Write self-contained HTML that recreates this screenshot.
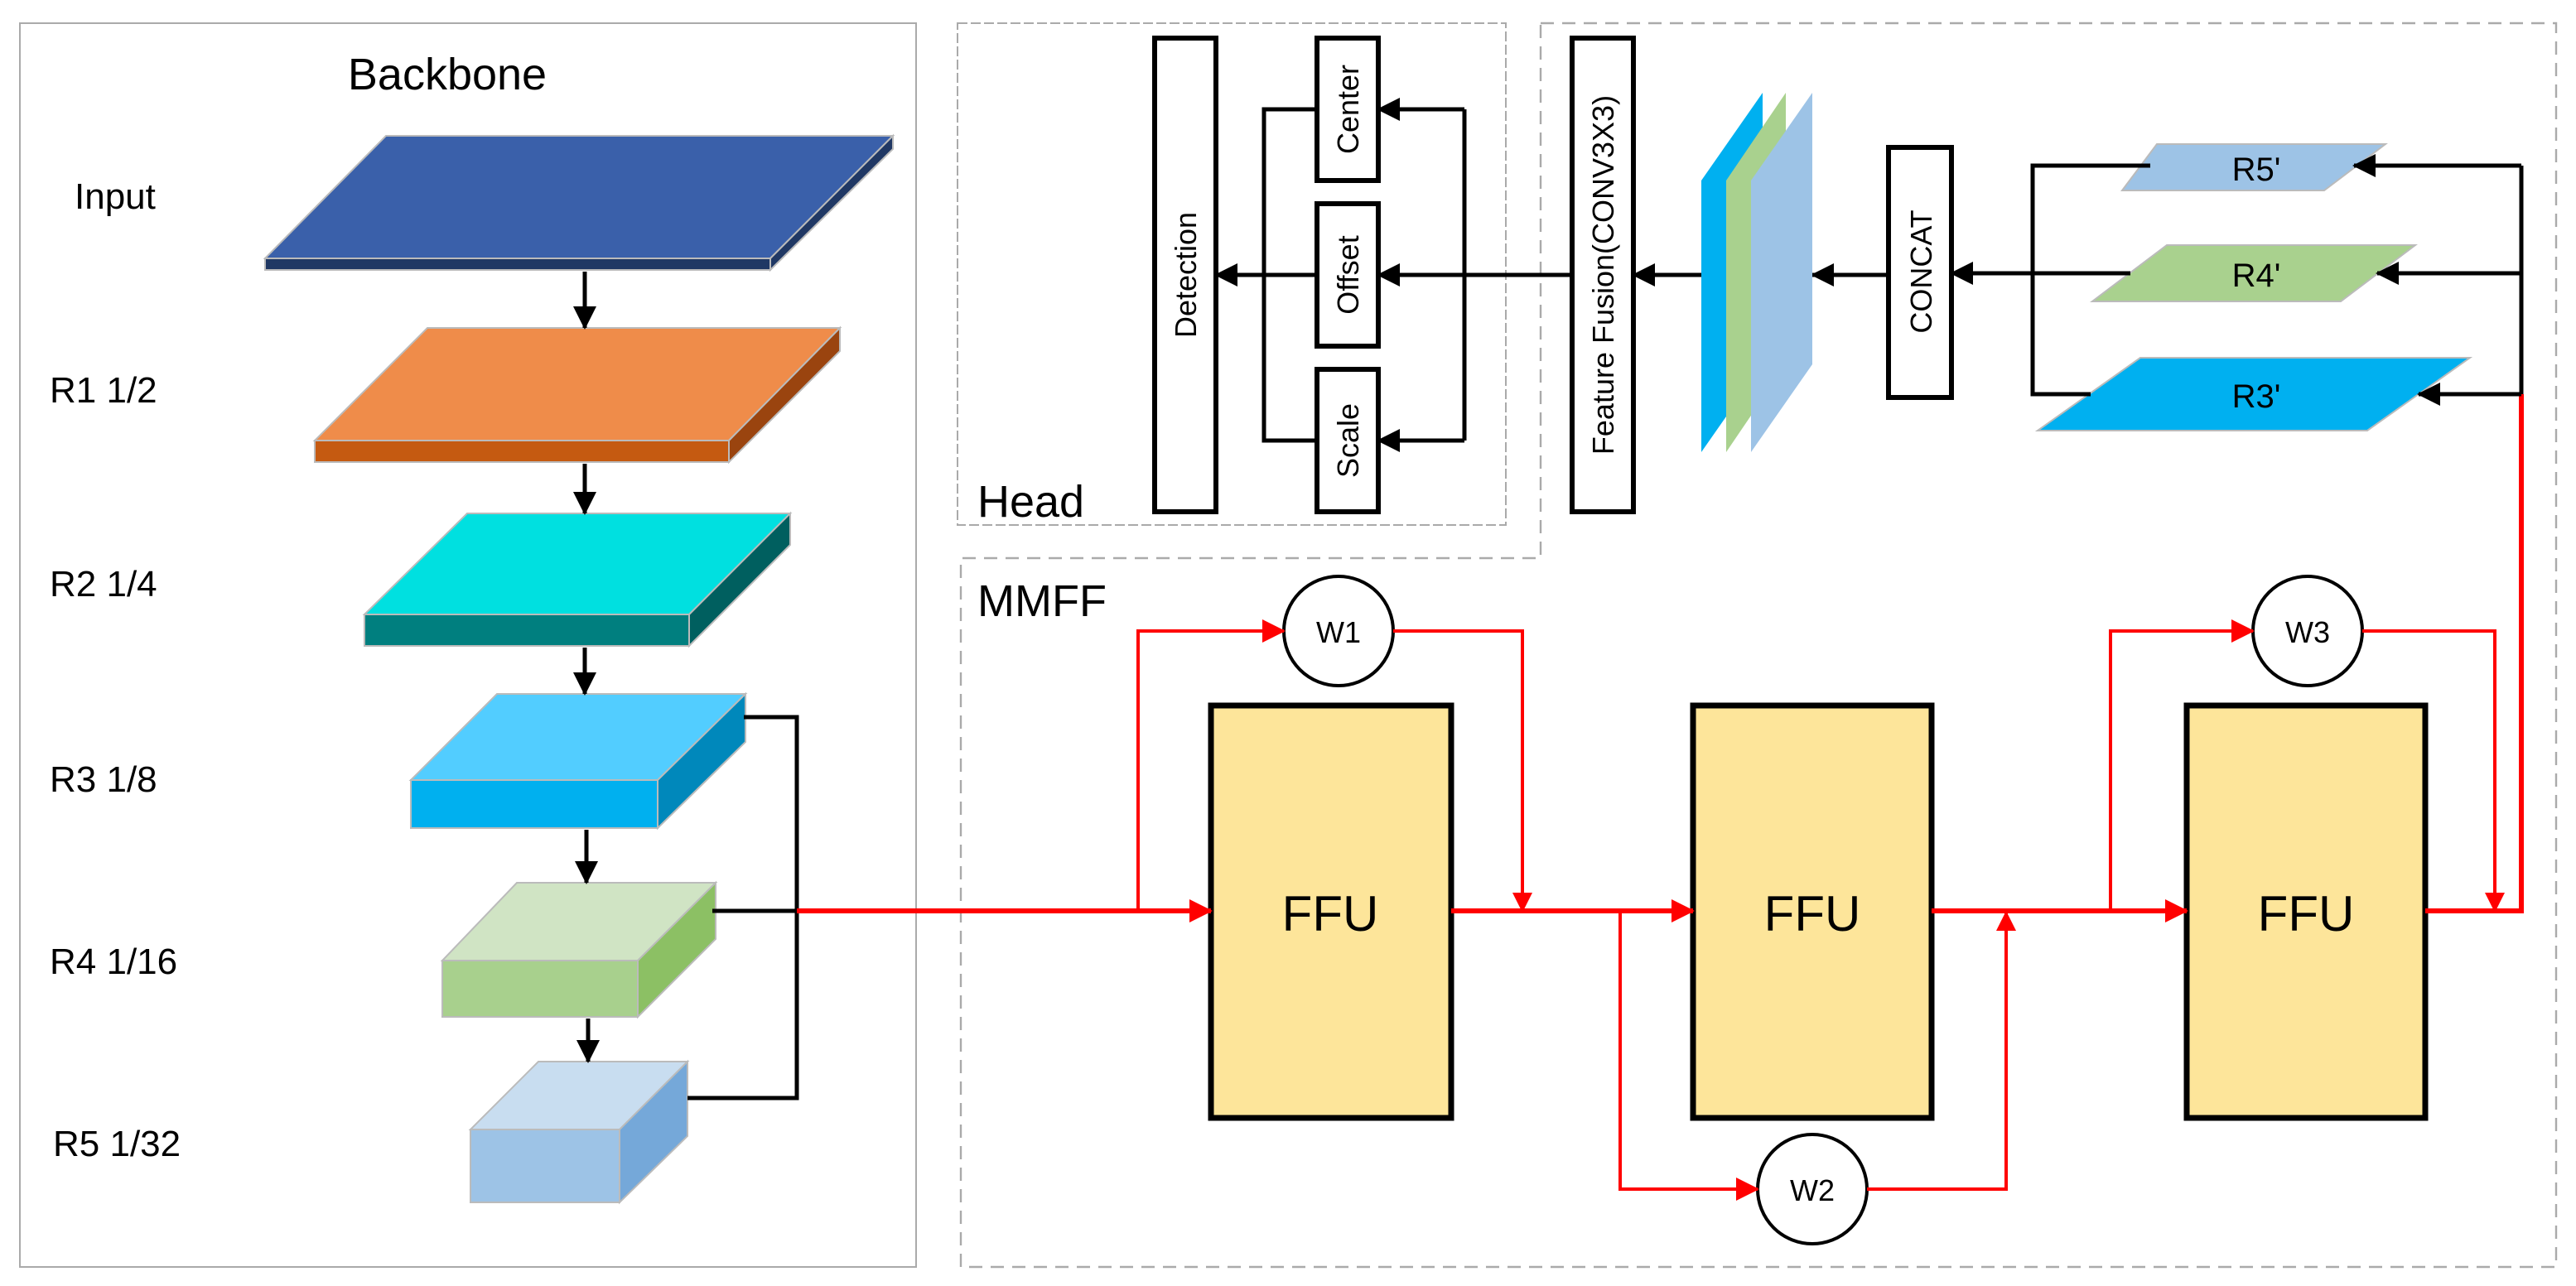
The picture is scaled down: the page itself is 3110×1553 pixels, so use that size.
<!DOCTYPE html>
<html><head><meta charset="utf-8"><style>html,body{margin:0;padding:0;background:#fff}svg{display:block}</style></head>
<body>
<svg xmlns="http://www.w3.org/2000/svg" width="3110" height="1553" viewBox="0 0 1555 776.5" font-family="Liberation Sans, sans-serif">
<defs>
<marker id="ab" markerUnits="userSpaceOnUse" markerWidth="14" markerHeight="14" viewBox="0 0 14 14" refX="13" refY="7" orient="auto"><path d="M0,0 L14,7 L0,14 z" fill="#000"/></marker>
<marker id="ar" markerUnits="userSpaceOnUse" markerWidth="14" markerHeight="14" viewBox="0 0 14 14" refX="13" refY="7" orient="auto"><path d="M0,0 L14,7 L0,14 z" fill="#f00"/></marker>
<marker id="ar2" markerUnits="userSpaceOnUse" markerWidth="12" markerHeight="12" viewBox="0 0 12 12" refX="11" refY="6" orient="auto"><path d="M0,0 L12,6 L0,12 z" fill="#f00"/></marker>
</defs>
<rect width="1555" height="776.5" fill="#fff"/>
<!-- frames -->
<rect x="12" y="14" width="541" height="751" fill="none" stroke="#aaa" stroke-width="1"/>
<rect x="578" y="14" width="331" height="303" fill="none" stroke="#aaa" stroke-width="1" stroke-dasharray="6,2"/>
<path d="M930,14 H1543 V765 H580 V337 H930 Z" fill="none" stroke="#aaa" stroke-width="1.2" stroke-dasharray="8,5"/>

<!-- Backbone -->
<text x="270" y="54" font-size="27" text-anchor="middle">Backbone</text>
<g font-size="22">
<text x="45" y="126">Input</text>
<text x="30" y="243">R1 1/2</text>
<text x="30" y="360">R2 1/4</text>
<text x="30" y="478">R3 1/8</text>
<text x="30" y="588">R4 1/16</text>
<text x="32" y="698">R5 1/32</text>
</g>
<g stroke="#bbb" stroke-width="1">
<polygon points="233,82 539,82 465,156 160,156" fill="#3A60AA"/>
<polygon points="160,156 465,156 465,163 160,163" fill="#203864"/>
<polygon points="465,156 539,82 539,90 465,163" fill="#203864"/>

<polygon points="258,198 507,198 440,266 190,266" fill="#EF8C4A"/>
<polygon points="190,266 440,266 440,279 190,279" fill="#C55A11"/>
<polygon points="440,266 507,198 507,212 440,279" fill="#9A440F"/>

<polygon points="282,310 477,310 416,371 220,371" fill="#00E0E0"/>
<polygon points="220,371 416,371 416,390 220,390" fill="#007F7F"/>
<polygon points="416,371 477,310 477,329 416,390" fill="#005F5F"/>

<polygon points="300,419 450,419 397,471 248,471" fill="#52CDFF"/>
<polygon points="248,471 397,471 397,500 248,500" fill="#00B0EF"/>
<polygon points="397,471 450,419 450,448 397,500" fill="#0088BB"/>

<polygon points="312,533 432,533 385,580 267,580" fill="#D0E4C4"/>
<polygon points="267,580 385,580 385,614 267,614" fill="#A8D08D"/>
<polygon points="385,580 432,533 432,567 385,614" fill="#8CC064"/>

<polygon points="325,641 415,641 374,682 284,682" fill="#C8DDF0"/>
<polygon points="284,682 374,682 374,726 284,726" fill="#9DC3E6"/>
<polygon points="374,682 415,641 415,686 374,726" fill="#75A8D9"/>
</g>
<g stroke="#000" stroke-width="2.5" fill="none" marker-end="url(#ab)">
<line x1="353" y1="164" x2="353" y2="198"/>
<line x1="353" y1="280" x2="353" y2="310"/>
<line x1="353" y1="391" x2="353" y2="419"/>
<line x1="354" y1="501" x2="354" y2="533"/>
<line x1="355" y1="615" x2="355" y2="641"/>
</g>
<g stroke="#000" stroke-width="2.5" fill="none">
<polyline points="449,433 481,433 481,663 415,663"/>
<line x1="430" y1="550" x2="481" y2="550"/>
</g>

<!-- MMFF -->
<text x="590" y="312" font-size="27">Head</text>
<text x="590" y="372" font-size="27">MMFF</text>
<g fill="#FDE59A" stroke="#000" stroke-width="3.5">
<rect x="731" y="426" width="145" height="249"/>
<rect x="1022" y="426" width="144" height="249"/>
<rect x="1320" y="426" width="144" height="249"/>
</g>
<g font-size="30" text-anchor="middle">
<text x="803" y="562">FFU</text>
<text x="1094" y="562">FFU</text>
<text x="1392" y="562">FFU</text>
</g>
<g fill="#fff" stroke="#000" stroke-width="2">
<circle cx="808" cy="381" r="33"/>
<circle cx="1094" cy="718" r="33"/>
<circle cx="1393" cy="381" r="33"/>
</g>
<g font-size="18" text-anchor="middle">
<text x="808" y="388">W1</text>
<text x="1094" y="725">W2</text>
<text x="1393" y="388">W3</text>
</g>
<g stroke="#f00" stroke-width="3" fill="none">
<line x1="481" y1="550" x2="731" y2="550" marker-end="url(#ar)"/>
<line x1="876" y1="550" x2="1022" y2="550" marker-end="url(#ar)"/>
<line x1="1166" y1="550" x2="1320" y2="550" marker-end="url(#ar)"/>
<polyline points="1464,550 1522,550 1522,238"/>
</g>
<g stroke="#f00" stroke-width="2" fill="none">
<polyline points="687,550 687,381 775,381" marker-end="url(#ar)"/>
<polyline points="841,381 919,381 919,550" marker-end="url(#ar2)"/>
<polyline points="978,550 978,718 1061,718" marker-end="url(#ar)"/>
<polyline points="1127,718 1211,718 1211,551" marker-end="url(#ar2)"/>
<polyline points="1274,550 1274,381 1360,381" marker-end="url(#ar)"/>
<polyline points="1426,381 1506,381 1506,550" marker-end="url(#ar2)"/>
</g>

<!-- Head -->
<g fill="#fff" stroke="#000" stroke-width="3">
<rect x="697" y="23" width="37" height="286"/>
<rect x="795" y="23" width="37" height="86"/>
<rect x="795" y="123" width="37" height="86"/>
<rect x="795" y="223" width="37" height="86"/>
<rect x="949" y="23" width="37" height="286"/>
<rect x="1140" y="89" width="38" height="151"/>
</g>
<g font-size="18" text-anchor="middle">
<text transform="translate(722,166) rotate(-90)">Detection</text>
<text transform="translate(820,66) rotate(-90)">Center</text>
<text transform="translate(820,166) rotate(-90)">Offset</text>
<text transform="translate(820,266) rotate(-90)">Scale</text>
<text transform="translate(974,166) rotate(-90)">Feature Fusion(CONV3X3)</text>
<text transform="translate(1166,164) rotate(-90)">CONCAT</text>
</g>
<g stroke="#000" stroke-width="2.5" fill="none">
<polyline points="795,66 763,66 763,266 795,266"/>
<polyline points="884,66 884,266"/>
<line x1="884" y1="66" x2="832" y2="66" marker-end="url(#ab)"/>
<line x1="884" y1="266" x2="832" y2="266" marker-end="url(#ab)"/>
<line x1="949" y1="166" x2="832" y2="166" marker-end="url(#ab)"/>
<line x1="795" y1="166" x2="734" y2="166" marker-end="url(#ab)"/>
<line x1="1027" y1="166" x2="986" y2="166" marker-end="url(#ab)"/>
<line x1="1140" y1="166" x2="1094" y2="166" marker-end="url(#ab)"/>
</g>
<!-- feature maps -->
<polygon points="1027,109 1064,56 1064,220 1027,273" fill="#00B0F0"/>
<polygon points="1042,109 1078,56 1078,220 1042,273" fill="#A9D18E"/>
<polygon points="1057,109 1094,56 1094,220 1057,273" fill="#9DC3E6"/>

<!-- R' -->
<g stroke="#bbb" stroke-width="1">
<polygon points="1302,87 1440,87 1403,115 1281,115" fill="#9DC3E6"/>
<polygon points="1308,148 1458,148 1413,182 1263,182" fill="#A9D18E"/>
<polygon points="1292,216 1491,216 1429,260 1230,260" fill="#00B0F0"/>
</g>
<g font-size="20" text-anchor="middle">
<text x="1362" y="109">R5'</text>
<text x="1362" y="173">R4'</text>
<text x="1362" y="246">R3'</text>
</g>
<g stroke="#000" stroke-width="2.5" fill="none">
<polyline points="1298,100 1227,100 1227,238 1262,238"/>
<line x1="1286" y1="165" x2="1178" y2="165" marker-end="url(#ab)"/>
<line x1="1522" y1="100" x2="1522" y2="238"/>
<line x1="1522" y1="100" x2="1421" y2="100" marker-end="url(#ab)"/>
<line x1="1522" y1="165" x2="1435" y2="165" marker-end="url(#ab)"/>
<line x1="1522" y1="238" x2="1460" y2="238" marker-end="url(#ab)"/>
</g>
</svg>
</body></html>
